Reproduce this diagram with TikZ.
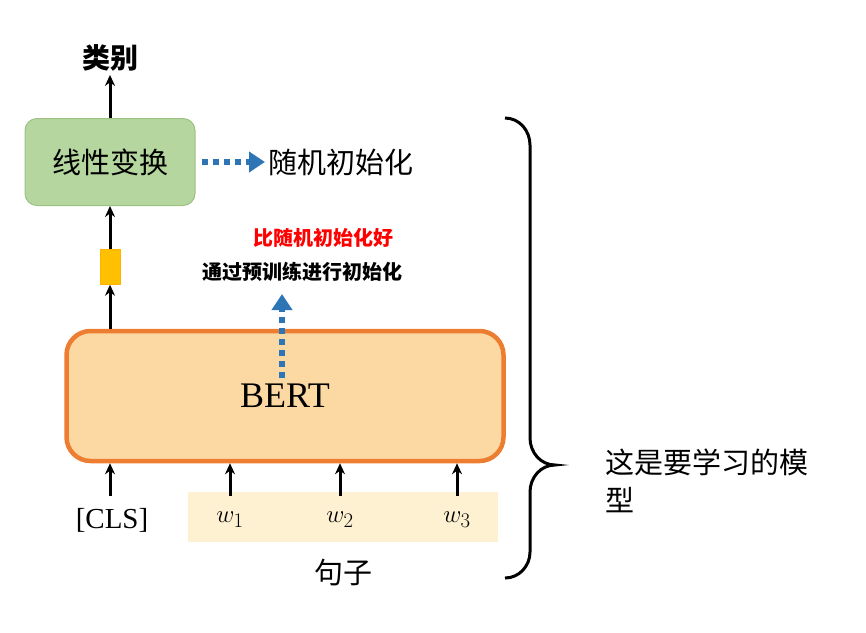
\documentclass[tikz,border=0pt]{standalone}
\usepackage{fontspec}
\setmainfont{Liberation Serif}
\newfontfamily\cjk{Noto Sans CJK SC}
\usetikzlibrary{arrows.meta,positioning,calc}
\definecolor{bertfill}{HTML}{FCD9A2}
\definecolor{bertline}{HTML}{ED7D31}
\definecolor{linfill}{HTML}{B5D69E}
\definecolor{linline}{HTML}{9DC283}
\definecolor{dotblue}{HTML}{2E75B6}
\definecolor{sentfill}{HTML}{FDF1D2}
\definecolor{clsfill}{HTML}{FFC000}
\tikzset{
  up/.style={line width=3pt,-{Stealth[length=11pt,width=10pt]}},
  dotted arrow/.style={dotblue,line width=6pt,dash pattern=on 6pt off 5pt,-{Triangle[length=16pt,width=20pt]}},
  cjktext/.style={font=\cjk\fontsize{29}{32}\selectfont},
  small cjk/.style={font=\cjk\bfseries\fontsize{20}{22}\selectfont}
}
\begin{document}
\begin{tikzpicture}[x=1pt,y=-1pt]
  \useasboundingbox (0,0) rectangle (866,632);
  % model boxes
  \node[draw=bertline,line width=4.5pt,fill=bertfill,rounded corners=24pt,
        minimum width=437pt,minimum height=130pt,font=\fontsize{36}{40}\selectfont] (bert) at (285,396) {BERT};
  \node[draw=linline,line width=1pt,fill=linfill,rounded corners=12pt,
        minimum width=170pt,minimum height=87pt,cjktext] (lin) at (110,162) {线性变换};
  \node[fill=clsfill,draw=clsfill!80!orange,minimum width=20pt,minimum height=35pt,inner sep=0pt] (cls) at (110,267) {};
  \node[font=\cjk\bfseries\fontsize{28}{30}\selectfont] (cat) at (110,58) {类别};
  % sentence
  \node[fill=sentfill,minimum width=310pt,minimum height=50pt] (sent) at (343,517) {};
  \node[font=\fontsize{29}{32}\selectfont] (tcls) at (112,520) {[CLS]};
  \node[font=\fontsize{29}{32}\selectfont] (w1) at (230,520) {$w_1$};
  \node[font=\fontsize{29}{32}\selectfont] (w2) at (340,520) {$w_2$};
  \node[font=\fontsize{29}{32}\selectfont] (w3) at (457,520) {$w_3$};
  \node[cjktext] (ju) at (343,573) {句子};
  % inputs
  \foreach \x in {110,230,340,457}
    \draw[up] (\x,496) -- (\x,0 |- bert.south);
  % outputs
  \draw[up] (bert.north -| cls) -- (cls.south);
  \draw[up] (cls.north) -- (lin.south);
  \draw[up] (lin.north) -- (cat.south);
  % initialisation
  \node[cjktext,anchor=west] (rand) at (265,162) {随机初始化};
  \draw[dotted arrow] ([xshift=6pt]lin.east) -- (rand.west);
  \node[small cjk,text=red] (better) at (323,238) {比随机初始化好};
  \node[small cjk] (pre) at (302,272) {通过预训练进行初始化};
  \coordinate (b0) at (282,378);
  \draw[dotted arrow] (b0) -- (282,294);
  % brace
  \draw[line width=3pt] (505,118) to[out=0,in=90] (530,145) -- (530,438)
    to[out=-90,in=180] (555,465) to[out=180,in=90] (530,492) -- (530,552)
    to[out=-90,in=0] (505,578);
  \node[cjktext,anchor=west] (model) at (602,462) {这是要学习的模};
  \node[cjktext,anchor=west] (model2) at (602,500) {型};
\end{tikzpicture}
\end{document}
